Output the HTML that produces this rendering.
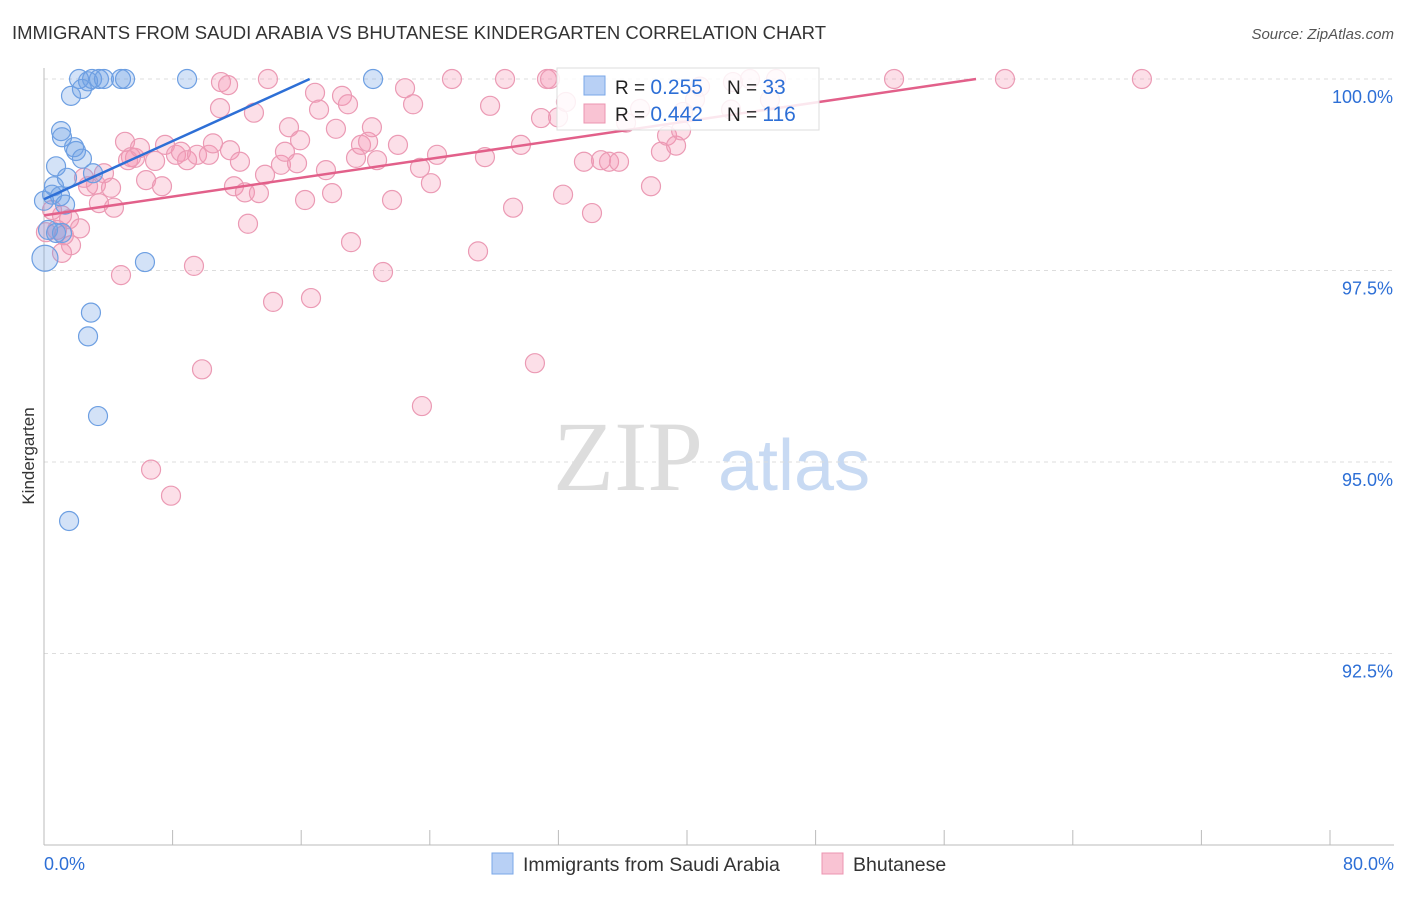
<!DOCTYPE html>
<html><head><meta charset="utf-8"><style>
body{margin:0;background:#fff;font-family:"Liberation Sans",sans-serif;}
svg text{font-family:"Liberation Sans",sans-serif;}
</style></head><body>
<svg width="1406" height="892" viewBox="0 0 1406 892">
<text x="12" y="39" font-size="18.5" fill="#333" textLength="814">IMMIGRANTS FROM SAUDI ARABIA VS BHUTANESE KINDERGARTEN CORRELATION CHART</text>
<text x="1394" y="39" font-size="15" fill="#555" font-style="italic" text-anchor="end">Source: ZipAtlas.com</text>
<text x="0" y="0" transform="translate(34,456) rotate(-90)" font-size="17" fill="#333" text-anchor="middle">Kindergarten</text>
<g>
<text x="553" y="490" font-size="100" fill="#ddd" style="font-family:'Liberation Serif',serif">ZIP</text>
<text x="718" y="490" font-size="72" fill="#c8daf3">atlas</text>
</g>
<g id="grid"></g><g id="axes"></g><g id="marks"></g>
<g>
<rect x="557" y="68" width="262" height="62" fill="#fff" fill-opacity="0.85" stroke="#ddd"/>
<rect x="584" y="76" width="21" height="19" fill="#b8d0f5" stroke="#7aa7e8"/>
<rect x="584" y="104" width="21" height="19" fill="#f9c3d3" stroke="#ec95b0"/>
<text x="615" y="94" font-size="19" fill="#222">R = <tspan fill="#2d6fd6" font-size="21">0.255</tspan></text>
<text x="727" y="94" font-size="19" fill="#222">N = <tspan fill="#2d6fd6" font-size="21"> 33</tspan></text>
<text x="615" y="121" font-size="19" fill="#222">R = <tspan fill="#2d6fd6" font-size="21">0.442</tspan></text>
<text x="727" y="121" font-size="19" fill="#222">N = <tspan fill="#2d6fd6" font-size="21">116</tspan></text>
</g>
<g>
<rect x="492" y="853" width="21" height="21" fill="#b8d0f5" stroke="#7aa7e8"/>
<text x="523" y="871" font-size="19.5" fill="#333">Immigrants from Saudi Arabia</text>
<rect x="822" y="853" width="21" height="21" fill="#f9c3d3" stroke="#ec95b0"/>
<text x="853" y="871" font-size="19.5" fill="#333">Bhutanese</text>
</g>
</svg>
<script>
const blueX=[2.18,2.74,2.99,3.42,3.73,4.79,5.04,8.90,20.47,1.68,2.36,1.06,1.12,1.87,1.99,2.36,0.75,1.43,0.62,0.50,1.00,0,1.31,3.05,0.25,0.75,1.12,0.06,6.28,2.92,2.74,3.36,1.56];
const blueY=[100,99.97,100,100,100,100,100,100,100,99.78,99.87,99.32,99.24,99.11,99.06,98.96,98.86,98.71,98.60,98.49,98.47,98.41,98.36,98.77,98.03,97.99,97.99,97.66,97.61,96.95,96.64,95.60,94.23];
const pinkX=[.5,1.12,.81,1.56,1.68,1.12,.12,1.24,2.74,3.23,3.42,4.17,4.35,3.73,4.79,5.04,5.41,5.66,5.97,6.35,6.91,7.34,7.53,8.21,8.52,8.90,9.52,10.26,10.51,11.01,10.95,11.57,11.82,12.19,12.50,12.69,13.06,13.37,13.75,13.93,14.25,14.74,14.99,15.24,15.74,15.93,16.24,16.61,16.86,17.11,17.54,17.92,18.16,18.54,18.91,19.10,19.41,19.72,20.16,20.40,20.72,21.09,21.65,22.02,22.46,22.96,23.39,23.51,24.07,24.45,25.38,27.00,27.43,27.75,28.68,29.18,29.67,30.54,30.92,31.29,31.48,31.98,32.29,32.47,33.59,34.09,34.65,35.15,35.77,36.21,37.08,37.76,38.38,38.76,39.32,39.63,39.75,40.50,40.81,42.86,43.92,45.54,45.16,42.74,52.88,59.78,68.30,9.83,6.66,7.90,9.33,2.24,11.45,5.23,2.49];
const pinkY=[98.29,98.22,98.03,98.17,97.83,97.73,98.00,97.96,98.60,98.62,98.38,98.58,98.32,98.77,97.44,99.18,98.98,98.97,99.10,98.68,98.93,98.60,99.14,99.01,99.05,98.94,99.01,99.01,99.16,99.96,99.62,99.07,98.60,98.92,98.52,98.11,99.56,98.51,98.75,100,97.09,98.88,99.05,99.37,98.90,99.20,98.42,97.14,99.82,99.60,98.81,98.51,99.35,99.78,99.67,97.87,98.97,99.14,99.18,99.37,98.94,97.48,98.42,99.14,99.88,99.67,98.84,95.73,98.64,99.01,100,97.75,98.98,99.65,100,98.32,99.14,96.29,99.49,100,100,99.50,98.49,99.70,98.92,98.25,98.94,98.92,98.92,99.43,99.61,98.60,99.05,99.26,99.13,99.33,99.57,99.73,99.90,99.96,100,100,99.73,99.60,100,100,100,96.21,94.90,94.56,97.56,98.05,99.92,98.94,98.71];
const blueTrend=[98.43,0.095];
const pinkTrend=[98.22,0.0307];
const yTicks=[100,97.5,95,92.5];
const yTickLabels=["100.0%","97.5%","95.0%","92.5%"];
const xTickLabels=["0.0%","80.0%"];
const NS="http://www.w3.org/2000/svg";
const sx=v=>44+v*(1286/80);
const sy=v=>79+(100-v)*76.6;
function mk(t,a,p){const e=document.createElementNS(NS,t);for(const k in a)e.setAttribute(k,a[k]);p.appendChild(e);return e;}
const grid=document.getElementById('grid'),axes=document.getElementById('axes'),marks=document.getElementById('marks');
yTicks.forEach((t,i)=>{
 const l=mk('line',{x1:44,x2:1394,y1:sy(t),y2:sy(t),stroke:'#ddd','stroke-dasharray':'4,4'},grid);
 
 
 const tx=mk('text',{x:1393,y:sy(t)+24,'font-size':18,fill:'#2d6fd6','text-anchor':'end'},axes);
 tx.textContent=yTickLabels[i];
 
 
});
const ya=mk('line',{x1:44,x2:44,y1:68,y2:845,stroke:'#bbb'},axes);


const xa=mk('line',{x1:44,x2:1394,y1:845,y2:845,stroke:'#bbb'},axes);


for(let i=0;i<=10;i++){const v=i*8;
 const t=mk('line',{x1:sx(v),x2:sx(v),y1:830,y2:845,stroke:'#bbb'},axes);
 
 
}
[[0,'start',44],[80,'end',1394]].forEach((d,i)=>{
 const t=mk('text',{x:d[2],y:870,'font-size':18,fill:'#2d6fd6','text-anchor':d[1]},axes);
 t.textContent=xTickLabels[i];
 
 
});
function pts(X,Y,fill,stroke,name){X.forEach((x,i)=>{
 const r=(name==='saudi-point'&&i===27)?13:9.5;
 const c=mk('circle',{cx:sx(x),cy:sy(Y[i]),r:r,fill:fill,stroke:stroke,'stroke-width':1.2},marks);
 
 
});}
pts(pinkX,pinkY,'rgba(244,150,180,0.3)','#eb9ab4','bhutanese-point');
pts(blueX,blueY,'rgba(110,160,230,0.3)','#6d9fe2','saudi-point');
function trend(tr,col,name){const xEnd=Math.min(80,(100-tr[0])/tr[1]);
 const l=mk('line',{x1:sx(0),y1:sy(tr[0]),x2:sx(xEnd),y2:sy(tr[0]+tr[1]*xEnd),stroke:col,'stroke-width':2.5},marks);
 
 
}
trend(blueTrend,'#2d6fd6','saudi-trendline');
trend(pinkTrend,'#e2608a','bhutanese-trendline');
</script>
</body></html>
